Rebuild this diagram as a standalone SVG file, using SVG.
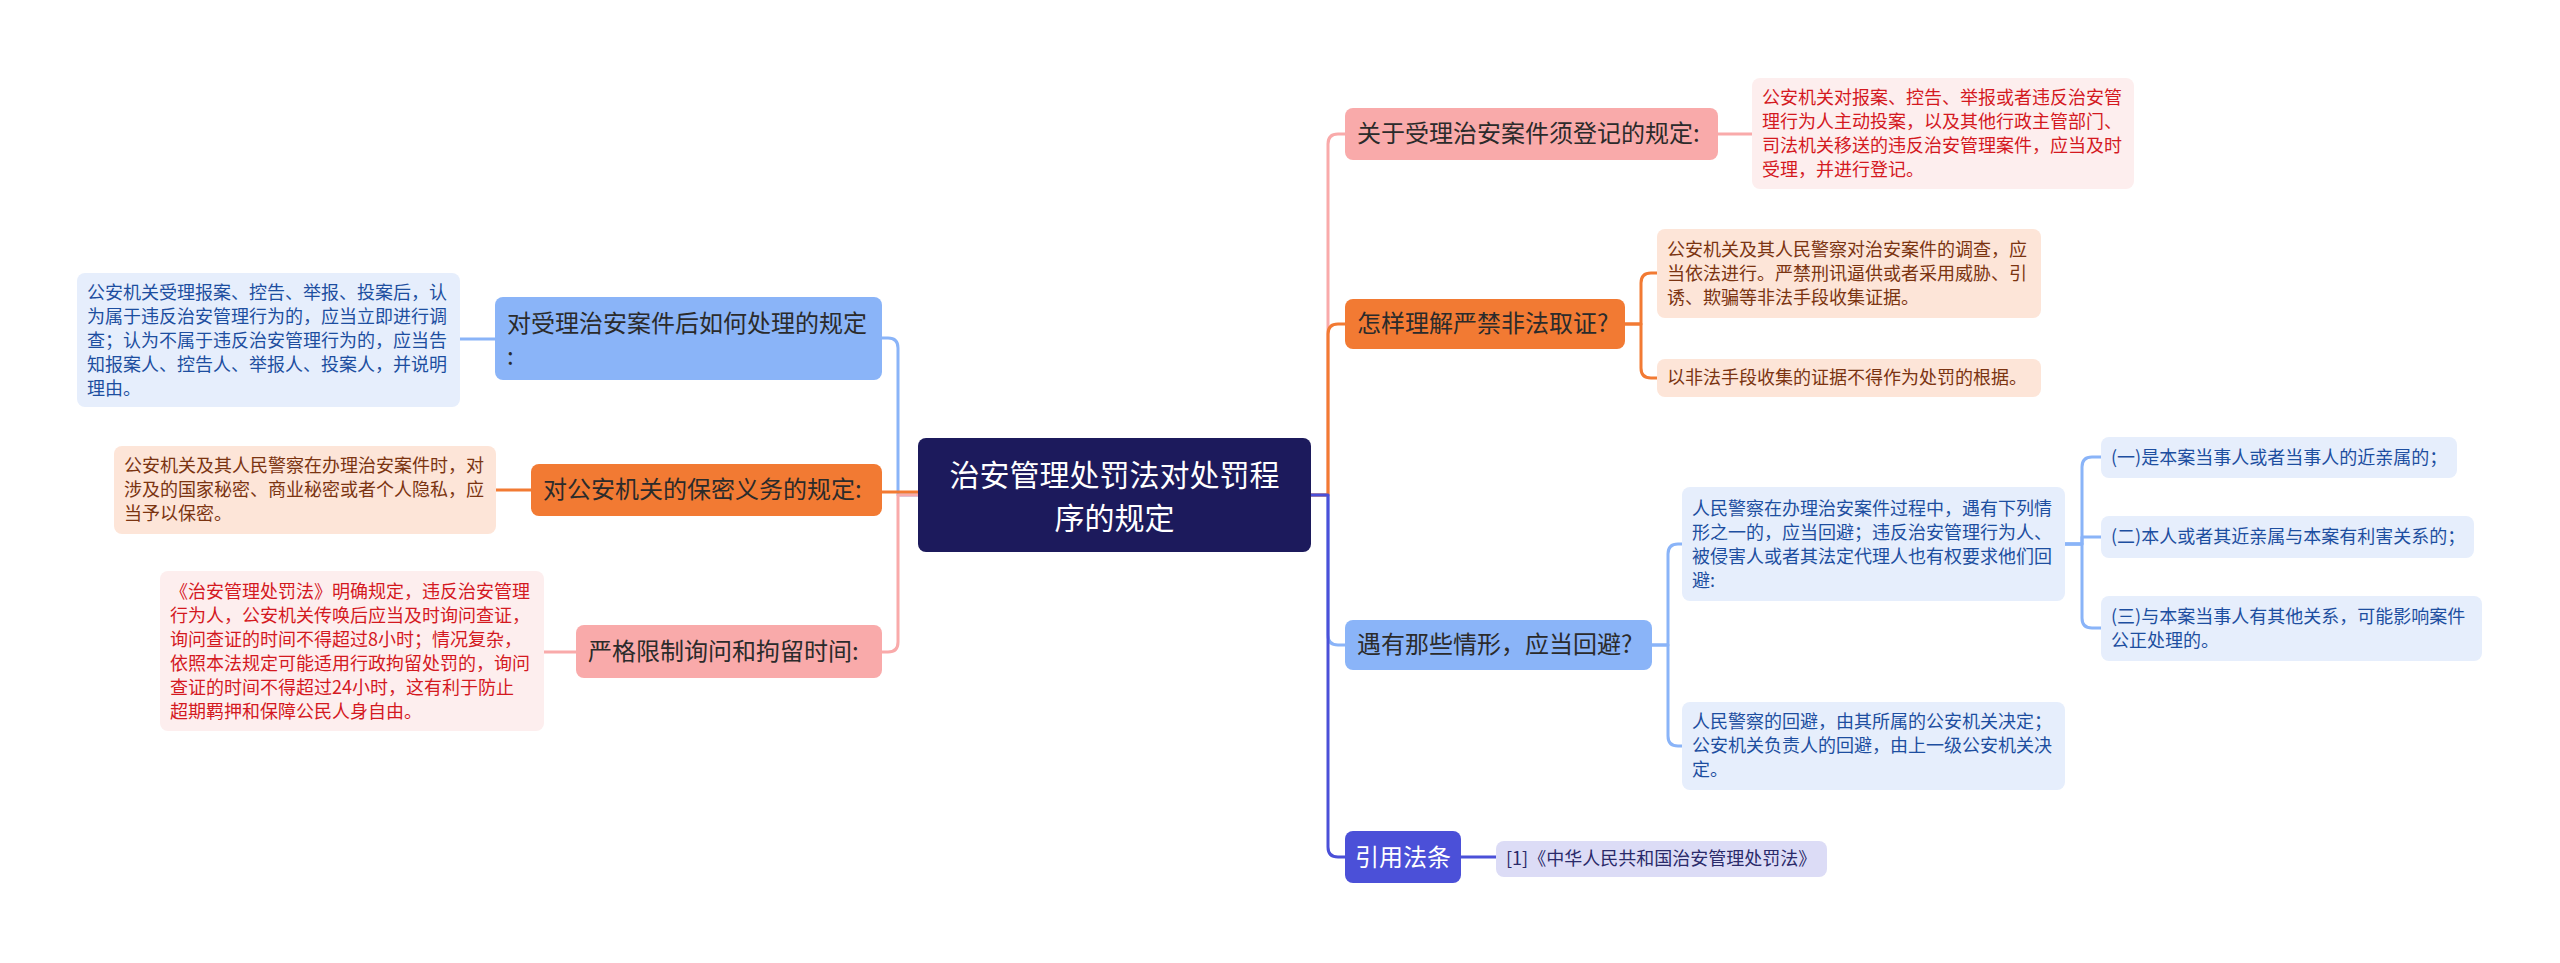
<svg xmlns="http://www.w3.org/2000/svg" width="2560" height="963" viewBox="0 0 2560 963">
<style>
text{font-family:"Noto Sans CJK SC","Liberation Sans",sans-serif;}
.c{fill:none;stroke-width:3;stroke-linecap:round;stroke-linejoin:round;}
.cb{stroke:#8ab4f8;}
.co{stroke:#f27a33;}
.cp{stroke:#f9aaaa;}
.ci{stroke:#4b50d8;}
.br{font-size:24px;fill:#2b2b2b;}
.lf{font-size:18px;}
.tb{fill:#1d4ea0;}
.to{fill:#7b3411;}
.tp{fill:#d4191f;}
.ti{fill:#2a2a6a;}
</style>
<rect width="2560" height="963" fill="#ffffff"/>
<g id="connectors">
<path class="c cb" d="M918,495 H898 V348 Q898,338 888,338 H882"/>
<path class="c cp" d="M918,495 H898 V642 Q898,652 888,652 H882"/>
<path class="c co" d="M918,492 H882"/>
<path class="c cb" d="M460,339 H495"/>
<path class="c co" d="M496,490 H531"/>
<path class="c cp" d="M544,652 H576"/>
<path class="c cp" d="M1311,495 H1328 V144 Q1328,134 1338,134 H1345"/>
<path class="c cb" d="M1311,495 H1328 V635 Q1328,645 1338,645 H1345"/>
<path class="c co" d="M1311,495 H1328 V334 Q1328,324 1338,324 H1345"/>
<path class="c ci" d="M1311,495 H1328 V847 Q1328,857 1338,857 H1345"/>
<path class="c cp" d="M1718,134 H1752"/>
<path class="c co" d="M1625,324 H1641 V283 Q1641,273 1651,273 H1657"/>
<path class="c co" d="M1625,324 H1641 V368 Q1641,378 1651,378 H1657"/>
<path class="c cb" d="M1652,645 H1668 V554 Q1668,544 1678,544 H1682"/>
<path class="c cb" d="M1652,645 H1668 V736 Q1668,746 1678,746 H1682"/>
<path class="c cb" d="M2065,544 H2082 V467 Q2082,457 2092,457 H2101"/>
<path class="c cb" d="M2065,544 H2082 V537 H2101"/>
<path class="c cb" d="M2065,544 H2082 V618 Q2082,628 2092,628 H2101"/>
<path class="c ci" d="M1461,857 H1496"/>
</g>
<g id="center">
<rect x="918" y="438" width="393" height="114" rx="8" fill="#1c1a5c"/>
<text x="1114.5" y="486" font-size="30" fill="#ffffff" text-anchor="middle">治安管理处罚法对处罚程</text>
<text x="1114.5" y="529" font-size="30" fill="#ffffff" text-anchor="middle">序的规定</text>
</g>
<g id="b1">
<rect x="495" y="297" width="387" height="83" rx="8" fill="#8ab4f8"/>
<text class="br" x="507" y="332">对受理治安案件后如何处理的规定</text>
<text class="br" x="507" y="365">:</text>
</g>
<g id="l1">
<rect x="77" y="273" width="383" height="134" rx="8" fill="#e6eefc"/>
<text class="lf tb" x="87" y="299">公安机关受理报案、控告、举报、投案后，认</text>
<text class="lf tb" x="87" y="323">为属于违反治安管理行为的，应当立即进行调</text>
<text class="lf tb" x="87" y="347">查；认为不属于违反治安管理行为的，应当告</text>
<text class="lf tb" x="87" y="371">知报案人、控告人、举报人、投案人，并说明</text>
<text class="lf tb" x="87" y="395">理由。</text>
</g>
<g id="b2">
<rect x="531" y="464" width="351" height="52" rx="8" fill="#f27a33"/>
<text class="br" x="543" y="498">对公安机关的保密义务的规定:</text>
</g>
<g id="l2">
<rect x="114" y="446" width="382" height="88" rx="8" fill="#fde5d8"/>
<text class="lf to" x="124" y="472">公安机关及其人民警察在办理治安案件时，对</text>
<text class="lf to" x="124" y="496">涉及的国家秘密、商业秘密或者个人隐私，应</text>
<text class="lf to" x="124" y="520">当予以保密。</text>
</g>
<g id="b3">
<rect x="576" y="625" width="306" height="53" rx="8" fill="#f9aaaa"/>
<text class="br" x="588" y="660">严格限制询问和拘留时间:</text>
</g>
<g id="l3">
<rect x="160" y="571" width="384" height="160" rx="8" fill="#fdeeee"/>
<text class="lf tp" x="170" y="598">《治安管理处罚法》明确规定，违反治安管理</text>
<text class="lf tp" x="170" y="622">行为人，公安机关传唤后应当及时询问查证，</text>
<text class="lf tp" x="170" y="646">询问查证的时间不得超过8小时；情况复杂，</text>
<text class="lf tp" x="170" y="670">依照本法规定可能适用行政拘留处罚的，询问</text>
<text class="lf tp" x="170" y="694">查证的时间不得超过24小时，这有利于防止</text>
<text class="lf tp" x="170" y="718">超期羁押和保障公民人身自由。</text>
</g>
<g id="r1">
<rect x="1345" y="108" width="373" height="52" rx="8" fill="#f9aaaa"/>
<text class="br" x="1357" y="142">关于受理治安案件须登记的规定:</text>
</g>
<g id="r1-leaf">
<rect x="1752" y="78" width="382" height="111" rx="8" fill="#fdeeee"/>
<text class="lf tp" x="1762" y="104">公安机关对报案、控告、举报或者违反治安管</text>
<text class="lf tp" x="1762" y="128">理行为人主动投案，以及其他行政主管部门、</text>
<text class="lf tp" x="1762" y="152">司法机关移送的违反治安管理案件，应当及时</text>
<text class="lf tp" x="1762" y="176">受理，并进行登记。</text>
</g>
<g id="r2">
<rect x="1345" y="299" width="280" height="50" rx="8" fill="#f27a33"/>
<text class="br" x="1357" y="332">怎样理解严禁非法取证?</text>
</g>
<g id="r2-leaf-a">
<rect x="1657" y="229" width="384" height="89" rx="8" fill="#fde5d8"/>
<text class="lf to" x="1667" y="256">公安机关及其人民警察对治安案件的调查，应</text>
<text class="lf to" x="1667" y="280">当依法进行。严禁刑讯逼供或者采用威胁、引</text>
<text class="lf to" x="1667" y="304">诱、欺骗等非法手段收集证据。</text>
</g>
<g id="r2-leaf-b">
<rect x="1657" y="359" width="384" height="38" rx="8" fill="#fde5d8"/>
<text class="lf to" x="1667" y="384">以非法手段收集的证据不得作为处罚的根据。</text>
</g>
<g id="r3">
<rect x="1345" y="620" width="307" height="50" rx="8" fill="#8ab4f8"/>
<text class="br" x="1357" y="653">遇有那些情形，应当回避?</text>
</g>
<g id="r3-leaf-a">
<rect x="1682" y="487" width="383" height="114" rx="8" fill="#e6eefc"/>
<text class="lf tb" x="1692" y="515">人民警察在办理治安案件过程中，遇有下列情</text>
<text class="lf tb" x="1692" y="539">形之一的，应当回避；违反治安管理行为人、</text>
<text class="lf tb" x="1692" y="563">被侵害人或者其法定代理人也有权要求他们回</text>
<text class="lf tb" x="1692" y="587">避:</text>
</g>
<g id="r3-leaf-b">
<rect x="1682" y="702" width="383" height="88" rx="8" fill="#e6eefc"/>
<text class="lf tb" x="1692" y="728">人民警察的回避，由其所属的公安机关决定；</text>
<text class="lf tb" x="1692" y="752">公安机关负责人的回避，由上一级公安机关决</text>
<text class="lf tb" x="1692" y="776">定。</text>
</g>
<g id="s1">
<rect x="2101" y="437" width="356" height="41" rx="8" fill="#e6eefc"/>
<text class="lf tb" x="2111" y="464">(一)是本案当事人或者当事人的近亲属的；</text>
</g>
<g id="s2">
<rect x="2101" y="516" width="373" height="42" rx="8" fill="#e6eefc"/>
<text class="lf tb" x="2111" y="543">(二)本人或者其近亲属与本案有利害关系的；</text>
</g>
<g id="s3">
<rect x="2101" y="596" width="381" height="65" rx="8" fill="#e6eefc"/>
<text class="lf tb" x="2111" y="623">(三)与本案当事人有其他关系，可能影响案件</text>
<text class="lf tb" x="2111" y="647">公正处理的。</text>
</g>
<g id="r4">
<rect x="1345" y="831" width="116" height="52" rx="8" fill="#4b50d8"/>
<text x="1403" y="866" font-size="24" fill="#ffffff" text-anchor="middle">引用法条</text>
</g>
<g id="r4-leaf">
<rect x="1496" y="841" width="331" height="36" rx="8" fill="#dcdcf6"/>
<text class="lf ti" x="1506" y="865">[1]《中华人民共和国治安管理处罚法》</text>
</g>
</svg>
